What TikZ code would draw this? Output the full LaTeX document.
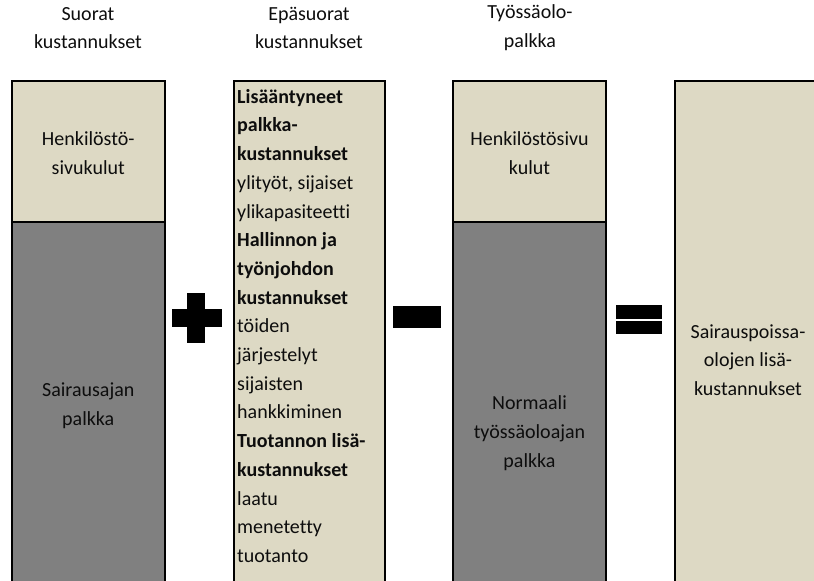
\documentclass[tikz,border=0pt]{standalone}
\usepackage{fontspec}
\setmainfont{Carlito}[Ligatures={NoCommon}]
\definecolor{beige}{HTML}{DDD9C4}
\definecolor{midgray}{HTML}{808080}
\begin{document}
\begin{tikzpicture}[x=1pt,y=-1pt,
  txt/.style={font=\fontsize{20}{28.7}\selectfont, align=center, inner sep=0pt, text=black!95},
  ltxt/.style={font=\fontsize{20}{28.7}\selectfont, align=left, inner sep=0pt, anchor=north west, text=black!95},
  tan/.style={draw=black, line width=2pt, fill=beige},
  dark/.style={draw=black, line width=2pt, fill=midgray},
  op/.style={fill=black, draw=none}]
\useasboundingbox (0,0) rectangle (814,581);
\clip (0,0) rectangle (814,581);
% headers
\node[txt] (h1) at (88,28) {Suorat\\kustannukset};
\node[txt] (h2) at (309,28) {Epäsuorat\\kustannukset};
\node[txt] (h3) at (530,28) {Työssäolo-\\palkka};
% box 1
\draw[dark] (11.5,222) rectangle (165,600);
\draw[tan] (11.5,81) rectangle (165,222);
\node[txt] (b1a) at (88.25,153) {Henkilöstö-\\sivukulut};
\node[txt] (b1b) at (88.25,406) {Sairausajan\\palkka};
% box 2
\draw[tan] (233.5,81) rectangle (385,600);
\node[ltxt] (b2) at (237,89) {\textbf{Lisääntyneet}\\\textbf{palkka-}\\\textbf{kustannukset}\\ylityöt, sijaiset\\ylikapasiteetti\\\textbf{Hallinnon ja}\\\textbf{työnjohdon}\\\textbf{kustannukset}\\töiden\\järjestelyt\\sijaisten\\hankkiminen\\\textbf{Tuotannon lisä-}\\\textbf{kustannukset}\\laatu\\menetetty\\tuotanto};
% box 3
\draw[dark] (453,222) rectangle (606,600);
\draw[tan] (453,81) rectangle (606,222);
\node[txt] (b3a) at (529.5,153) {Henkilöstösivu\\kulut};
\node[txt] (b3b) at (529.5,433) {Normaali\\työssäoloajan\\palkka};
% box 4
\draw[tan] (675,81) rectangle (830,600);
\node[txt] (b4) at (748,360) {Sairauspoissa-\\olojen lisä-\\kustannukset};
% operators
\fill[op] (171.5,308.5) rectangle (221.5,326.5);
\fill[op] (187,292.5) rectangle (205,342.5);
\fill[op] (393,306) rectangle (441,328);
\fill[op] (616,305) rectangle (662,319);
\fill[op] (616,321) rectangle (662,334);
\end{tikzpicture}
\end{document}
